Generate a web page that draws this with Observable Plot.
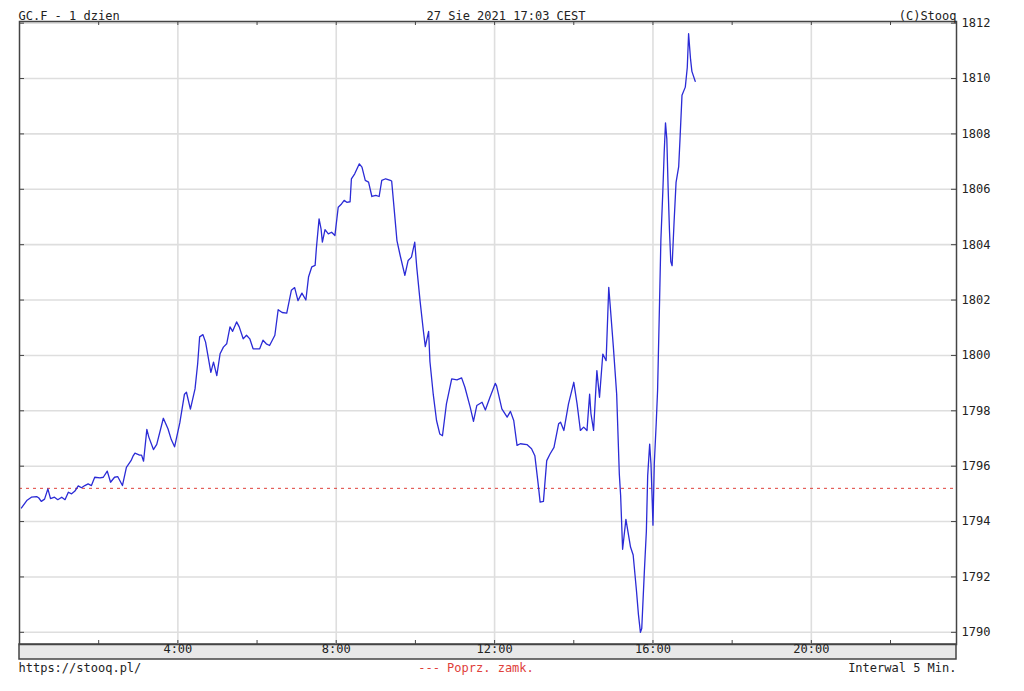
<!DOCTYPE html>
<html>
<head>
<meta charset="utf-8">
<script src="https://cdn.jsdelivr.net/npm/d3@7"></script>
<script src="https://cdn.jsdelivr.net/npm/@observablehq/plot@0.6"></script>
<style>
  body { margin: 0; background: #fff; }
</style>
</head>
<body>
<div id="chart"></div>
<script>
// Time of each quote, minutes after midnight (CEST)
const minutes = [
  3,11,18,26,29,33,38,43,47,53,
  58,64,69,74,79,84,89,94,99,104,
  109,114,122,127,133,138,144,149,156,162,
  169,172,175,182,185,188,193,196,203,208,
  218,225,230,235,243,250,253,259,266,270,
  273,278,282,290,294,299,304,309,314,319,
  323,329,333,339,344,349,354,364,369,374,
  379,387,392,398,405,412,417,422,428,434,
  438,443,448,450,454,457,459,463,468,473,
  478,483,488,492,496,501,503,508,515,519,
  524,529,534,540,545,549,555,562,564,568,
  572,577,584,589,594,599,602,607,612,615,
  620,622,627,632,637,641,647,655,663,670,
  675,683,688,693,701,706,713,721,723,731,
  739,744,749,754,759,769,776,781,786,789,
  794,799,804,810,817,820,825,832,840,845,
  850,855,860,864,866,870,875,879,884,889,
  893,895,900,905,909,911,914,919,926,930,
  935,938,941,943,947,950,952,955,957,959,
  960,962,965,967,970,972,975,977,979,981,
  983,985,987,989,992,995,999,1001,1004,1009,
  1012,1014,1017,1019,1024
];
// GC.F price
const prices = [
  1794.49,1794.76,1794.88,1794.90,1794.86,1794.73,1794.81,1795.18,1794.83,1794.88,
  1794.79,1794.88,1794.79,1795.06,1795.00,1795.10,1795.29,1795.22,1795.30,1795.36,
  1795.30,1795.60,1795.58,1795.60,1795.82,1795.42,1795.60,1795.62,1795.30,1795.96,
  1796.20,1796.36,1796.47,1796.40,1796.40,1796.18,1797.33,1797.05,1796.60,1796.79,
  1797.73,1797.35,1796.96,1796.70,1797.57,1798.60,1798.67,1798.06,1798.79,1799.70,
  1800.67,1800.75,1800.48,1799.39,1799.76,1799.27,1800.06,1800.30,1800.42,1801.03,
  1800.87,1801.21,1801.03,1800.60,1800.73,1800.60,1800.24,1800.24,1800.55,1800.42,
  1800.36,1800.73,1801.65,1801.55,1801.53,1802.35,1802.45,1801.98,1802.25,1802.00,
  1802.83,1803.20,1803.25,1803.90,1804.93,1804.57,1804.09,1804.54,1804.39,1804.45,
  1804.33,1805.35,1805.47,1805.60,1805.53,1805.55,1806.38,1806.56,1806.92,1806.80,
  1806.32,1806.26,1805.74,1805.78,1805.74,1806.32,1806.38,1806.32,1806.30,1805.23,
  1804.15,1803.60,1802.89,1803.43,1803.55,1804.09,1803.19,1801.98,1800.90,1800.32,
  1800.87,1799.78,1798.60,1797.65,1797.16,1797.10,1798.25,1799.15,1799.12,1799.19,
  1798.85,1798.13,1797.62,1798.19,1798.31,1798.03,1798.49,1798.99,1798.90,1798.07,
  1797.77,1797.98,1797.65,1796.75,1796.81,1796.78,1796.63,1796.38,1795.36,1794.70,
  1794.73,1796.20,1796.44,1796.68,1797.53,1797.59,1797.29,1798.25,1799.03,1798.25,
  1797.29,1797.41,1797.29,1798.60,1797.90,1797.29,1799.45,1798.49,1800.05,1799.81,
  1802.46,1801.86,1800.30,1798.60,1795.72,1794.94,1793.00,1794.08,1793.08,1792.79,
  1791.50,1790.64,1790.00,1790.14,1792.22,1793.65,1795.65,1796.80,1796.08,1794.65,
  1793.87,1796.08,1797.59,1798.73,1801.95,1804.17,1805.96,1807.32,1808.40,1807.82,
  1806.03,1804.53,1803.39,1803.24,1804.82,1806.25,1806.82,1807.82,1809.40,1809.69,
  1810.40,1811.62,1810.69,1810.26,1809.90
];
const prevClose = 1795.2;            // "Poprz. zamk." (previous close)
const yTicks = [1790,1792,1794,1796,1798,1800,1802,1804,1806,1808,1810,1812];
const xDomain = [0, 1420];           // minutes shown on the time axis
const gridMinutes = [240, 480, 720, 960, 1200];
const gridLabels = ["4:00", "8:00", "12:00", "16:00", "20:00"];
const tickMinutes = [0,120,240,360,480,600,720,840,960,1080,1200,1320];
const headerLeft = "GC.F - 1 dzien";
const headerCenter = "27 Sie 2021 17:03 CEST";
const headerRight = "(C)Stooq";
const footerLeft = "https://stooq.pl/";
const footerCenter = "--- Poprz. zamk.";
const footerRight = "Interwal 5 Min.";

const data = minutes.map((m, i) => ({m, p: prices[i]}));
const font = "'DejaVu Sans Mono', monospace";
const ink = "#222";
const border = "#444";

const plot = Plot.plot({
  width: 1024,
  height: 691,
  marginLeft: 19,
  marginRight: 68,
  marginTop: 21,
  marginBottom: 47,
  style: {fontFamily: font, fontSize: "12px", color: ink, background: "#fff"},
  x: {domain: xDomain, axis: null},
  y: {domain: [1789.56, 1812.06], axis: null},
  marks: [
    Plot.ruleY(yTicks, {y: d => d, stroke: "#dedede", strokeWidth: 1.6}),
    Plot.ruleX(gridMinutes, {x: d => d, stroke: "#dedede", strokeWidth: 1.6}),
    Plot.ruleY([prevClose], {y: d => d, stroke: "#e0403a", strokeWidth: 1, strokeDasharray: "3,4"}),
    Plot.line(data, {x: "m", y: "p", stroke: "#2b2bd6", strokeWidth: 1.3}),
    Plot.frame({stroke: border, strokeWidth: 1.5}),
    Plot.tickX(tickMinutes, {x: d => d, insetTop: 619, stroke: border}),
    Plot.tickX(tickMinutes, {x: d => d, insetBottom: 619, stroke: border}),
    Plot.tickY(yTicks, {y: d => d, insetLeft: 932, stroke: border}),
    Plot.tickY(yTicks, {y: d => d, insetRight: 932, stroke: border}),
    Plot.axisY(yTicks, {anchor: "right", label: null, tickSize: 0, tickPadding: 5, tickFormat: d => String(d), fontSize: 12, fill: ink}),
    Plot.text(gridMinutes, {x: d => d, text: (d, i) => gridLabels[i], frameAnchor: "bottom", dy: 8, fontSize: 12, fill: ink}),
    Plot.text([headerLeft], {text: d => d, frameAnchor: "top-left", textAnchor: "start", dy: -10, dx: -1, fontSize: 12, fill: ink}),
    Plot.text([headerCenter], {text: d => d, frameAnchor: "top", dy: -10, dx: 18, fontSize: 12, fill: ink}),
    Plot.text([headerRight], {text: d => d, frameAnchor: "top-right", textAnchor: "end", dy: -10, fontSize: 12, fill: ink}),
    Plot.text([footerLeft], {text: d => d, frameAnchor: "bottom-left", textAnchor: "start", dy: 27, dx: -1, fontSize: 12, fill: ink}),
    Plot.text([footerCenter], {text: d => d, frameAnchor: "bottom", dy: 27, dx: -12, fontSize: 12, fill: "#e0403a"}),
    Plot.text([footerRight], {text: d => d, frameAnchor: "bottom-right", textAnchor: "end", dy: 27, fontSize: 12, fill: ink})
  ]
});

// grey time band under the plot area (layout decoration)
const xr = plot.scale("x").range;
const yr = plot.scale("y").range;
d3.select(plot).insert("rect", ":first-child")
  .attr("x", Math.min(...xr))
  .attr("y", Math.max(...yr))
  .attr("width", Math.abs(xr[1] - xr[0]))
  .attr("height", 15)
  .attr("fill", "#e8e8e8")
  .attr("stroke", border)
  .attr("stroke-width", 1.5);

document.getElementById("chart").append(plot);
</script>
</body>
</html>
